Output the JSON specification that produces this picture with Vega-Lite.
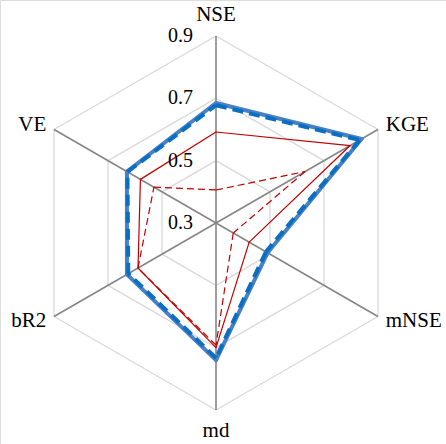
{
  "$schema": "https://vega.github.io/schema/vega-lite/v6.json",
  "width": 446,
  "height": 444,
  "autosize": {"type": "none"},
  "padding": 0,
  "datasets": {
    "scores": [
      {"series": "A", "metric": "NSE", "value": 0.685},
      {"series": "A", "metric": "KGE", "value": 0.839},
      {"series": "A", "metric": "mNSE", "value": 0.491},
      {"series": "A", "metric": "md", "value": 0.74},
      {"series": "A", "metric": "bR2", "value": 0.63},
      {"series": "A", "metric": "VE", "value": 0.63},
      {"series": "B", "metric": "NSE", "value": 0.678},
      {"series": "B", "metric": "KGE", "value": 0.832},
      {"series": "B", "metric": "mNSE", "value": 0.485},
      {"series": "B", "metric": "md", "value": 0.733},
      {"series": "B", "metric": "bR2", "value": 0.625},
      {"series": "B", "metric": "VE", "value": 0.628},
      {"series": "C", "metric": "NSE", "value": 0.592},
      {"series": "C", "metric": "KGE", "value": 0.797},
      {"series": "C", "metric": "mNSE", "value": 0.423},
      {"series": "C", "metric": "md", "value": 0.70},
      {"series": "C", "metric": "bR2", "value": 0.589},
      {"series": "C", "metric": "VE", "value": 0.58},
      {"series": "D", "metric": "NSE", "value": 0.406},
      {"series": "D", "metric": "KGE", "value": 0.63},
      {"series": "D", "metric": "mNSE", "value": 0.364},
      {"series": "D", "metric": "md", "value": 0.692},
      {"series": "D", "metric": "bR2", "value": 0.589},
      {"series": "D", "metric": "VE", "value": 0.53}
    ],
    "axes": [
      {"metric": "NSE"}, {"metric": "KGE"}, {"metric": "mNSE"},
      {"metric": "md"}, {"metric": "bR2"}, {"metric": "VE"}
    ],
    "grid": [
      {"metric": "NSE", "level": 0.5}, {"metric": "KGE", "level": 0.5}, {"metric": "mNSE", "level": 0.5},
      {"metric": "md", "level": 0.5}, {"metric": "bR2", "level": 0.5}, {"metric": "VE", "level": 0.5},
      {"metric": "NSE", "level": 0.7}, {"metric": "KGE", "level": 0.7}, {"metric": "mNSE", "level": 0.7},
      {"metric": "md", "level": 0.7}, {"metric": "bR2", "level": 0.7}, {"metric": "VE", "level": 0.7},
      {"metric": "NSE", "level": 0.9}, {"metric": "KGE", "level": 0.9}, {"metric": "mNSE", "level": 0.9},
      {"metric": "md", "level": 0.9}, {"metric": "bR2", "level": 0.9}, {"metric": "VE", "level": 0.9}
    ]
  },
  "encoding": {
    "x": {"field": "px", "type": "quantitative", "scale": {"domain": [-216, 230], "nice": false, "zero": false}, "axis": null},
    "y": {"field": "py", "type": "quantitative", "scale": {"domain": [-221, 223], "nice": false, "zero": false}, "axis": null}
  },
  "layer": [
    {
      "data": {"name": "grid"},
      "transform": [
        {"calculate": "indexof(['NSE','KGE','mNSE','md','bR2','VE'], datum.metric)", "as": "idx"},
        {"calculate": "(datum.level-0.3)/0.6*187", "as": "r"},
        {"calculate": "datum.r*sin(datum.idx*PI/3)", "as": "px"},
        {"calculate": "datum.r*cos(datum.idx*PI/3)", "as": "py"},
        {"calculate": "datum.r*sin((datum.idx+1)*PI/3)", "as": "px2"},
        {"calculate": "datum.r*cos((datum.idx+1)*PI/3)", "as": "py2"}
      ],
      "mark": {"type": "rule", "stroke": "#d9d9d9", "strokeWidth": 1.3},
      "encoding": {"x2": {"field": "px2"}, "y2": {"field": "py2"}}
    },
    {
      "data": {"name": "axes"},
      "transform": [
        {"calculate": "indexof(['NSE','KGE','mNSE','md','bR2','VE'], datum.metric)", "as": "idx"},
        {"calculate": "0", "as": "px"},
        {"calculate": "0", "as": "py"},
        {"calculate": "187*sin(datum.idx*PI/3)", "as": "px2"},
        {"calculate": "187*cos(datum.idx*PI/3)", "as": "py2"}
      ],
      "mark": {"type": "rule", "stroke": "#868686", "strokeWidth": 1.6},
      "encoding": {"x2": {"field": "px2"}, "y2": {"field": "py2"}}
    },
    {
      "data": {"name": "scores"},
      "transform": [
        {"filter": "datum.series == 'D'"},
        {"calculate": "indexof(['NSE','KGE','mNSE','md','bR2','VE'], datum.metric)", "as": "idx"},
        {"window": [{"op": "lead", "field": "value", "as": "nextv"}, {"op": "first_value", "field": "value", "as": "firstv"}], "sort": [{"field": "idx", "order": "ascending"}], "groupby": ["series"], "frame": [null, null]},
        {"calculate": "isValid(datum.nextv) ? datum.nextv : datum.firstv", "as": "nv"},
        {"calculate": "(datum.value-0.3)/0.6*187", "as": "r"},
        {"calculate": "(datum.nv-0.3)/0.6*187", "as": "r2"},
        {"calculate": "datum.r*sin(datum.idx*PI/3)", "as": "px"},
        {"calculate": "datum.r*cos(datum.idx*PI/3)", "as": "py"},
        {"calculate": "datum.r2*sin((datum.idx+1)*PI/3)", "as": "px2"},
        {"calculate": "datum.r2*cos((datum.idx+1)*PI/3)", "as": "py2"}
      ],
      "mark": {"type": "rule", "stroke": "#c00000", "strokeWidth": 1.2, "strokeDash": [7, 4]},
      "encoding": {"x2": {"field": "px2"}, "y2": {"field": "py2"}}
    },
    {
      "data": {"name": "scores"},
      "transform": [
        {"filter": "datum.series == 'C'"},
        {"calculate": "indexof(['NSE','KGE','mNSE','md','bR2','VE'], datum.metric)", "as": "idx"},
        {"window": [{"op": "lead", "field": "value", "as": "nextv"}, {"op": "first_value", "field": "value", "as": "firstv"}], "sort": [{"field": "idx", "order": "ascending"}], "groupby": ["series"], "frame": [null, null]},
        {"calculate": "isValid(datum.nextv) ? datum.nextv : datum.firstv", "as": "nv"},
        {"calculate": "(datum.value-0.3)/0.6*187", "as": "r"},
        {"calculate": "(datum.nv-0.3)/0.6*187", "as": "r2"},
        {"calculate": "datum.r*sin(datum.idx*PI/3)", "as": "px"},
        {"calculate": "datum.r*cos(datum.idx*PI/3)", "as": "py"},
        {"calculate": "datum.r2*sin((datum.idx+1)*PI/3)", "as": "px2"},
        {"calculate": "datum.r2*cos((datum.idx+1)*PI/3)", "as": "py2"}
      ],
      "mark": {"type": "rule", "stroke": "#c00000", "strokeWidth": 1.2, "strokeCap": "round"},
      "encoding": {"x2": {"field": "px2"}, "y2": {"field": "py2"}}
    },
    {
      "data": {"name": "scores"},
      "transform": [
        {"filter": "datum.series == 'A'"},
        {"calculate": "indexof(['NSE','KGE','mNSE','md','bR2','VE'], datum.metric)", "as": "idx"},
        {"window": [{"op": "lead", "field": "value", "as": "nextv"}, {"op": "first_value", "field": "value", "as": "firstv"}], "sort": [{"field": "idx", "order": "ascending"}], "groupby": ["series"], "frame": [null, null]},
        {"calculate": "isValid(datum.nextv) ? datum.nextv : datum.firstv", "as": "nv"},
        {"calculate": "(datum.value-0.3)/0.6*187", "as": "r"},
        {"calculate": "(datum.nv-0.3)/0.6*187", "as": "r2"},
        {"calculate": "datum.r*sin(datum.idx*PI/3)", "as": "px"},
        {"calculate": "datum.r*cos(datum.idx*PI/3)", "as": "py"},
        {"calculate": "datum.r2*sin((datum.idx+1)*PI/3)", "as": "px2"},
        {"calculate": "datum.r2*cos((datum.idx+1)*PI/3)", "as": "py2"}
      ],
      "mark": {"type": "rule", "stroke": "#4a80c4", "strokeWidth": 4, "strokeCap": "round"},
      "encoding": {"x2": {"field": "px2"}, "y2": {"field": "py2"}}
    },
    {
      "data": {"name": "scores"},
      "transform": [
        {"filter": "datum.series == 'B'"},
        {"calculate": "indexof(['NSE','KGE','mNSE','md','bR2','VE'], datum.metric)", "as": "idx"},
        {"window": [{"op": "lead", "field": "value", "as": "nextv"}, {"op": "first_value", "field": "value", "as": "firstv"}], "sort": [{"field": "idx", "order": "ascending"}], "groupby": ["series"], "frame": [null, null]},
        {"calculate": "isValid(datum.nextv) ? datum.nextv : datum.firstv", "as": "nv"},
        {"calculate": "(datum.value-0.3)/0.6*187", "as": "r"},
        {"calculate": "(datum.nv-0.3)/0.6*187", "as": "r2"},
        {"calculate": "datum.r*sin(datum.idx*PI/3)", "as": "px"},
        {"calculate": "datum.r*cos(datum.idx*PI/3)", "as": "py"},
        {"calculate": "datum.r2*sin((datum.idx+1)*PI/3)", "as": "px2"},
        {"calculate": "datum.r2*cos((datum.idx+1)*PI/3)", "as": "py2"}
      ],
      "mark": {"type": "rule", "stroke": "#0a6fc2", "strokeWidth": 4, "strokeDash": [11, 6]},
      "encoding": {"x2": {"field": "px2"}, "y2": {"field": "py2"}}
    },
    {
      "data": {"values": [
        {"level": 0.3, "label": "0.3"}, {"level": 0.5, "label": "0.5"},
        {"level": 0.7, "label": "0.7"}, {"level": 0.9, "label": "0.9"}
      ]},
      "transform": [
        {"calculate": "-23", "as": "px"},
        {"calculate": "(datum.level-0.3)/0.6*187", "as": "py"}
      ],
      "mark": {"type": "text", "align": "right", "baseline": "middle", "font": "Liberation Serif", "fontSize": 20},
      "encoding": {"text": {"field": "label"}}
    },
    {
      "data": {"values": [{"metric": "NSE", "idx": 0}, {"metric": "md", "idx": 3}]},
      "transform": [
        {"calculate": "0", "as": "px"},
        {"calculate": "208*cos(datum.idx*PI/3)", "as": "py"}
      ],
      "mark": {"type": "text", "align": "center", "baseline": "middle", "font": "Liberation Serif", "fontSize": 21},
      "encoding": {"text": {"field": "metric"}}
    },
    {
      "data": {"values": [{"metric": "KGE", "idx": 1}, {"metric": "mNSE", "idx": 2}]},
      "transform": [
        {"calculate": "196*sin(datum.idx*PI/3)", "as": "px"},
        {"calculate": "196*cos(datum.idx*PI/3)", "as": "py"}
      ],
      "mark": {"type": "text", "align": "left", "baseline": "middle", "font": "Liberation Serif", "fontSize": 21},
      "encoding": {"text": {"field": "metric"}}
    },
    {
      "data": {"values": [{"metric": "bR2", "idx": 4}, {"metric": "VE", "idx": 5}]},
      "transform": [
        {"calculate": "196*sin(datum.idx*PI/3)", "as": "px"},
        {"calculate": "196*cos(datum.idx*PI/3)", "as": "py"}
      ],
      "mark": {"type": "text", "align": "right", "baseline": "middle", "font": "Liberation Serif", "fontSize": 21},
      "encoding": {"text": {"field": "metric"}}
    }
  ]
}
